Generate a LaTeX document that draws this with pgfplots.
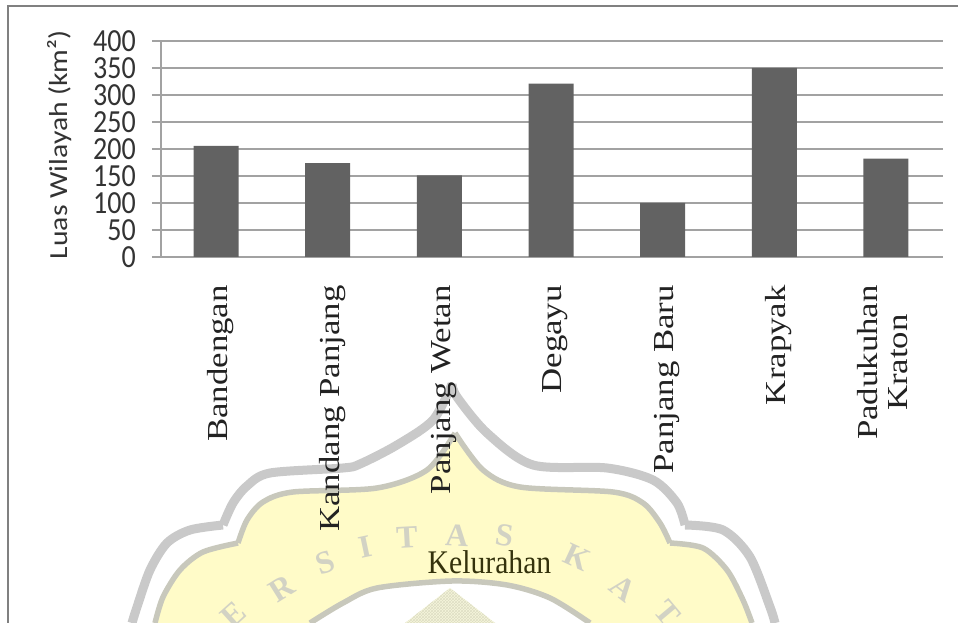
\documentclass[border=0pt]{standalone}
\usepackage{fontspec}
\usepackage{pgfplots}
\usetikzlibrary{patterns}
\pgfplotsset{compat=1.18}
\setmainfont{Liberation Serif}
\newfontfamily\chartsans{Carlito}
\definecolor{framegray}{HTML}{808080}
\definecolor{gridgray}{HTML}{A2A2A2}
\definecolor{barfill}{HTML}{626262}
\definecolor{crestline}{HTML}{C9C9C9}
\definecolor{crestinner}{HTML}{C8C8BC}
\definecolor{crestfill}{HTML}{FFFBC8}
\definecolor{cresttext}{HTML}{D2D2C4}
\definecolor{crestcore}{HTML}{F6F6DC}
\definecolor{crestmesh}{HTML}{DEDEC4}
\definecolor{labelink}{HTML}{222222}
\definecolor{oliveink}{HTML}{34320C}
\pgfplotstableread{
idx value
0 206
1 174
2 151
3 321
4 100
5 350
6 182
}\luastable
\begin{document}
\begin{tikzpicture}
\path[use as bounding box] (0pt,0pt) rectangle (958pt,623pt);
% University crest behind the chart
\begin{scope}[x=1pt,y=-1pt,shift={(0pt,623pt)}]
\clip (0,0) rectangle (958,623);
\fill[crestfill]
  plot[smooth,tension=.5] coordinates {(155,623)(163,597)(180,570)(203,552)(238,543)}
  -- plot[smooth,tension=.5] coordinates {(238,543)(247,520)(263,502)(293,492)(377,488)(427,470)(455,433)}
  -- plot[smooth,tension=.5] coordinates {(455,433)(483,470)(520,487)(613,492)(643,503)(660,523)(670,543)}
  -- plot[smooth,tension=.5] coordinates {(670,543)(703,548)(727,570)(743,600)(752,623)}
  -- (590,623)
  -- plot[smooth,tension=.5] coordinates {(590,623)(550,598)(507,585)(452,581)(377,588)(343,603)(310,623)}
  -- cycle;
\fill[crestcore] (450,588) -- (495,623) -- (405,623) -- cycle;
\fill[pattern=crosshatch,pattern color=crestmesh] (450,588) -- (495,623) -- (405,623) -- cycle;
\begin{scope}[draw=crestline,line width=9pt,line join=round]
\draw plot[smooth,tension=.5] coordinates {(132,623)(137,607)(150,570)(167,543)(190,530)(223,525)};
\draw plot[smooth,tension=.5] coordinates {(223,525)(233,503)(247,486)(270,473)(343,468)(360,464)(397,445)(433,420)(452,384)};
\draw plot[smooth,tension=.5] coordinates {(452,384)(457,397)(487,433)(533,465)(607,468)(653,480)(677,503)(685,525)};
\draw plot[smooth,tension=.5] coordinates {(685,525)(723,530)(750,557)(770,607)(775,623)};
\end{scope}
\begin{scope}[draw=crestinner,line width=5.5pt,line join=round]
\draw plot[smooth,tension=.5] coordinates {(155,623)(163,597)(180,570)(203,552)(238,543)};
\draw plot[smooth,tension=.5] coordinates {(238,543)(247,520)(263,502)(293,492)(377,488)(427,470)(455,433)};
\draw plot[smooth,tension=.5] coordinates {(455,433)(483,470)(520,487)(613,492)(643,503)(660,523)(670,543)};
\draw plot[smooth,tension=.5] coordinates {(670,543)(703,548)(727,570)(743,600)(752,623)};
\draw plot[smooth,tension=.5] coordinates {(590,623)(550,598)(507,585)(452,581)(377,588)(343,603)(310,623)};
\end{scope}
\begin{scope}[every node/.style={text=cresttext,font=\fontsize{32}{32}\selectfont\bfseries,inner sep=0pt}]
\node[rotate=42]  at (233,615) {E};
\node[rotate=32]  at (282,588) {R};
\node[rotate=20]  at (325,563) {S};
\node[rotate=12]  at (365,547) {I};
\node[rotate=3]   at (407,537) {T};
\node[rotate=-3]  at (457,536) {A};
\node[rotate=-8]  at (505,535) {S};
\node[rotate=-25] at (577,557) {K};
\node[rotate=-38] at (623,588) {A};
\node[rotate=-50] at (667,613) {T};
\end{scope}
\end{scope}
% Outer frame: top and left edges only
\draw[framegray,line width=2pt] (8pt,0pt) -- (8pt,617pt) -- (958pt,617pt);
\begin{axis}[
  at={(161pt,366pt)},anchor=south west,
  scale only axis,width=781.5pt,height=216pt,
  xmin=-0.4935,xmax=6.5065,ymin=0,ymax=400,
  ytick={0,50,...,400},
  xtick={0,...,5},
  xticklabels={Bandengan,Kandang Panjang,Panjang Wetan,Degayu,Panjang Baru,Krapyak},
  extra x ticks={6},
  extra x tick labels={{Padukuhan\\Kraton}},
  extra x tick style={xticklabel style={yshift=8pt},grid=none},
  ymajorgrids,
  grid style={gridgray,line width=1.2pt},
  axis line style={gridgray,line width=1.2pt},
  axis x line*=bottom,
  axis y line*=left,
  x axis line style={-},
  y axis line style={-},
  tick style={gridgray,line width=1.2pt},
  major tick length=9pt,
  tick align=outside,
  xtick style={draw=none},
  yticklabel style={font=\chartsans\fontsize{28}{28}\selectfont,yscale=1.15,text=black!80,inner sep=0pt,/pgf/number format/assume math mode=true},
  ytick pos=left,
  yticklabel shift=16pt,
  xticklabel style={xshift=4.5pt,font=\fontsize{29}{30}\selectfont,rotate=90,xscale=1.2,anchor=east,align=center,text=labelink,inner sep=0pt},
  xticklabel shift=19pt,
  xlabel={Kelurahan},
  xlabel style={font=\fontsize{33}{33}\selectfont,xscale=.9,text=oliveink,at={(axis description cs:0.4203,-1.412)},anchor=center,inner sep=0pt},
  ylabel={Luas Wilayah (km²)},
  ylabel style={font=\chartsans\fontsize{26}{26}\selectfont,xscale=1.14,text=black!80,at={(axis description cs:-0.1300,0.52)},anchor=center,rotate=0,inner sep=0pt},
  clip=false,
]
\addplot[ybar,bar width=45pt,fill=barfill,draw=none] table[x=idx,y=value] {\luastable};
\end{axis}
\end{tikzpicture}
\end{document}
